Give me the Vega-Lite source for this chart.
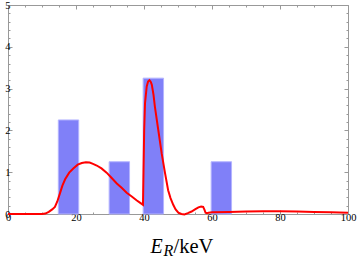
{
  "$schema": "https://vega.github.io/schema/vega-lite/v6.json",
  "width": 340,
  "height": 209,
  "autosize": {"type": "none"},
  "padding": {"left": 8, "top": 5, "right": 9, "bottom": 44},
  "background": "white",
  "config": {
    "view": {"stroke": "#999999", "strokeWidth": 1},
    "axis": {
      "domain": false,
      "grid": false,
      "tickColor": "#999999",
      "labelFont": "Liberation Serif",
      "labelFontSize": 10.5,
      "labelColor": "#000000",
      "titleFont": "Liberation Serif",
      "titleColor": "#000000",
      "titleFontWeight": "normal",
      "labelFlush": false,
      "labelOverlap": false
    }
  },
  "datasets": {
    "bars": [
      {"x0": 14.8, "x1": 20.8, "h": 2.25},
      {"x0": 29.75, "x1": 35.75, "h": 1.25},
      {"x0": 39.75, "x1": 45.75, "h": 3.25},
      {"x0": 59.75, "x1": 65.75, "h": 1.25}
    ],
    "curve": [
      {"x": 0, "y": 0}, {"x": 5, "y": 0}, {"x": 10, "y": 0}, {"x": 11, "y": 0.01},
      {"x": 12, "y": 0.05}, {"x": 13, "y": 0.11}, {"x": 13.8, "y": 0.17}, {"x": 14.5, "y": 0.3},
      {"x": 15.3, "y": 0.5}, {"x": 16, "y": 0.68}, {"x": 16.8, "y": 0.83}, {"x": 18, "y": 0.99},
      {"x": 19.2, "y": 1.09}, {"x": 20.5, "y": 1.18}, {"x": 21.7, "y": 1.22}, {"x": 22.9, "y": 1.24},
      {"x": 24, "y": 1.23}, {"x": 25, "y": 1.2}, {"x": 26.1, "y": 1.16}, {"x": 27.5, "y": 1.09},
      {"x": 29, "y": 0.99}, {"x": 30.5, "y": 0.86}, {"x": 32, "y": 0.73}, {"x": 33.5, "y": 0.62},
      {"x": 34.9, "y": 0.51}, {"x": 36.4, "y": 0.42}, {"x": 37.8, "y": 0.33}, {"x": 39, "y": 0.26},
      {"x": 39.7, "y": 0.22}, {"x": 39.85, "y": 1.0}, {"x": 40.05, "y": 2.0}, {"x": 40.3, "y": 2.65},
      {"x": 40.8, "y": 3.05}, {"x": 41.2, "y": 3.17}, {"x": 41.6, "y": 3.2}, {"x": 42.0, "y": 3.16},
      {"x": 42.3, "y": 3.09}, {"x": 42.8, "y": 2.85}, {"x": 43.2, "y": 2.57}, {"x": 44.2, "y": 2.01},
      {"x": 45.2, "y": 1.45}, {"x": 46.2, "y": 0.97}, {"x": 47.1, "y": 0.57}, {"x": 47.8, "y": 0.38},
      {"x": 48.6, "y": 0.22}, {"x": 49.3, "y": 0.11}, {"x": 50.1, "y": 0.03}, {"x": 51, "y": 0.0},
      {"x": 51.9, "y": -0.01}, {"x": 52.9, "y": 0.02}, {"x": 54, "y": 0.06}, {"x": 55, "y": 0.11},
      {"x": 56, "y": 0.16}, {"x": 56.8, "y": 0.18}, {"x": 57.4, "y": 0.17}, {"x": 57.8, "y": 0.1},
      {"x": 58.1, "y": 0.03}, {"x": 58.5, "y": 0.02}, {"x": 59, "y": 0.03}, {"x": 60, "y": 0.04},
      {"x": 65, "y": 0.05}, {"x": 70, "y": 0.06}, {"x": 75, "y": 0.065}, {"x": 80, "y": 0.065},
      {"x": 85, "y": 0.06}, {"x": 90, "y": 0.05}, {"x": 95, "y": 0.04}, {"x": 100, "y": 0.03}
    ]
  },
  "layer": [
    {
      "data": {"name": "bars"},
      "mark": {"type": "rect", "fill": "#8080f8", "stroke": "#b4b4ff", "strokeWidth": 1},
      "encoding": {
        "x": {"field": "x0", "type": "quantitative", "scale": {"domain": [0, 100], "nice": false},
          "axis": {"orient": "bottom", "values": [0, 20, 40, 60, 80, 100], "tickSize": -4, "labelPadding": 2,
            "labelFont": "Liberation Serif", "labelFontSize": 10.5, "labelColor": "#000000",
            "title": "E", "titleFont": "Liberation Serif", "titleFontStyle": "italic", "titleFontSize": 20, "titleX": 142, "titleY": 38,
            "titleAlign": "left", "titleBaseline": "alphabetic", "titleAngle": 0}},
        "x2": {"field": "x1"},
        "y": {"field": "h", "type": "quantitative", "scale": {"domain": [0, 5], "nice": false},
          "axis": {"orient": "left", "values": [0, 1, 2, 3, 4, 5], "tickSize": -4, "labelPadding": 2,
            "labelFont": "Liberation Serif", "labelFontSize": 10.5, "labelColor": "#000000", "title": null}},
        "y2": {"datum": 0}
      }
    },
    {
      "data": {"name": "curve"},
      "mark": {"type": "line", "color": "#ff0000", "strokeWidth": 2},
      "encoding": {
        "x": {"field": "x", "type": "quantitative",
          "axis": {"orient": "top", "values": [0, 20, 40, 60, 80, 100], "tickSize": -4, "labels": false, "title": null}},
        "y": {"field": "y", "type": "quantitative",
          "axis": {"orient": "right", "values": [0, 1, 2, 3, 4, 5], "tickSize": -4, "labels": false, "title": null}}
      }
    },
    {
      "data": {"name": "curve"},
      "mark": {"type": "line", "opacity": 0},
      "encoding": {
        "x": {"field": "x", "type": "quantitative",
          "axis": {"orient": "bottom", "values": [5, 10, 15, 25, 30, 35, 45, 50, 55, 65, 70, 75, 85, 90, 95], "tickSize": -2, "labels": false,
            "title": "R", "titleFont": "Liberation Serif", "titleFontStyle": "italic", "titleFontSize": 16, "titleX": 155, "titleY": 41,
            "titleAlign": "left", "titleBaseline": "alphabetic", "titleAngle": 0}},
        "y": {"field": "y", "type": "quantitative",
          "axis": {"orient": "left", "values": [0.2, 0.4, 0.6, 0.8, 1.2, 1.4, 1.6, 1.8, 2.2, 2.4, 2.6, 2.8, 3.2, 3.4, 3.6, 3.8, 4.2, 4.4, 4.6, 4.8], "tickSize": -2, "labels": false, "title": null}}
      }
    },
    {
      "data": {"name": "curve"},
      "mark": {"type": "line", "opacity": 0},
      "encoding": {
        "x": {"field": "x", "type": "quantitative",
          "axis": {"orient": "top", "values": [5, 10, 15, 25, 30, 35, 45, 50, 55, 65, 70, 75, 85, 90, 95], "tickSize": -2, "labels": false, "title": null}},
        "y": {"field": "y", "type": "quantitative",
          "axis": {"orient": "right", "values": [0.2, 0.4, 0.6, 0.8, 1.2, 1.4, 1.6, 1.8, 2.2, 2.4, 2.6, 2.8, 3.2, 3.4, 3.6, 3.8, 4.2, 4.4, 4.6, 4.8], "tickSize": -2, "labels": false, "title": null}}
      }
    },
    {
      "data": {"name": "curve"},
      "mark": {"type": "line", "opacity": 0},
      "encoding": {
        "x": {"field": "x", "type": "quantitative",
          "axis": {"orient": "bottom", "ticks": false, "labels": false,
            "title": "/keV", "titleFont": "Liberation Serif", "titleFontSize": 20.5, "titleX": 165, "titleY": 38,
            "titleAlign": "left", "titleBaseline": "alphabetic", "titleAngle": 0}},
        "y": {"field": "y", "type": "quantitative", "axis": null}
      }
    }
  ],
  "resolve": {"axis": {"x": "independent", "y": "independent"}}
}
